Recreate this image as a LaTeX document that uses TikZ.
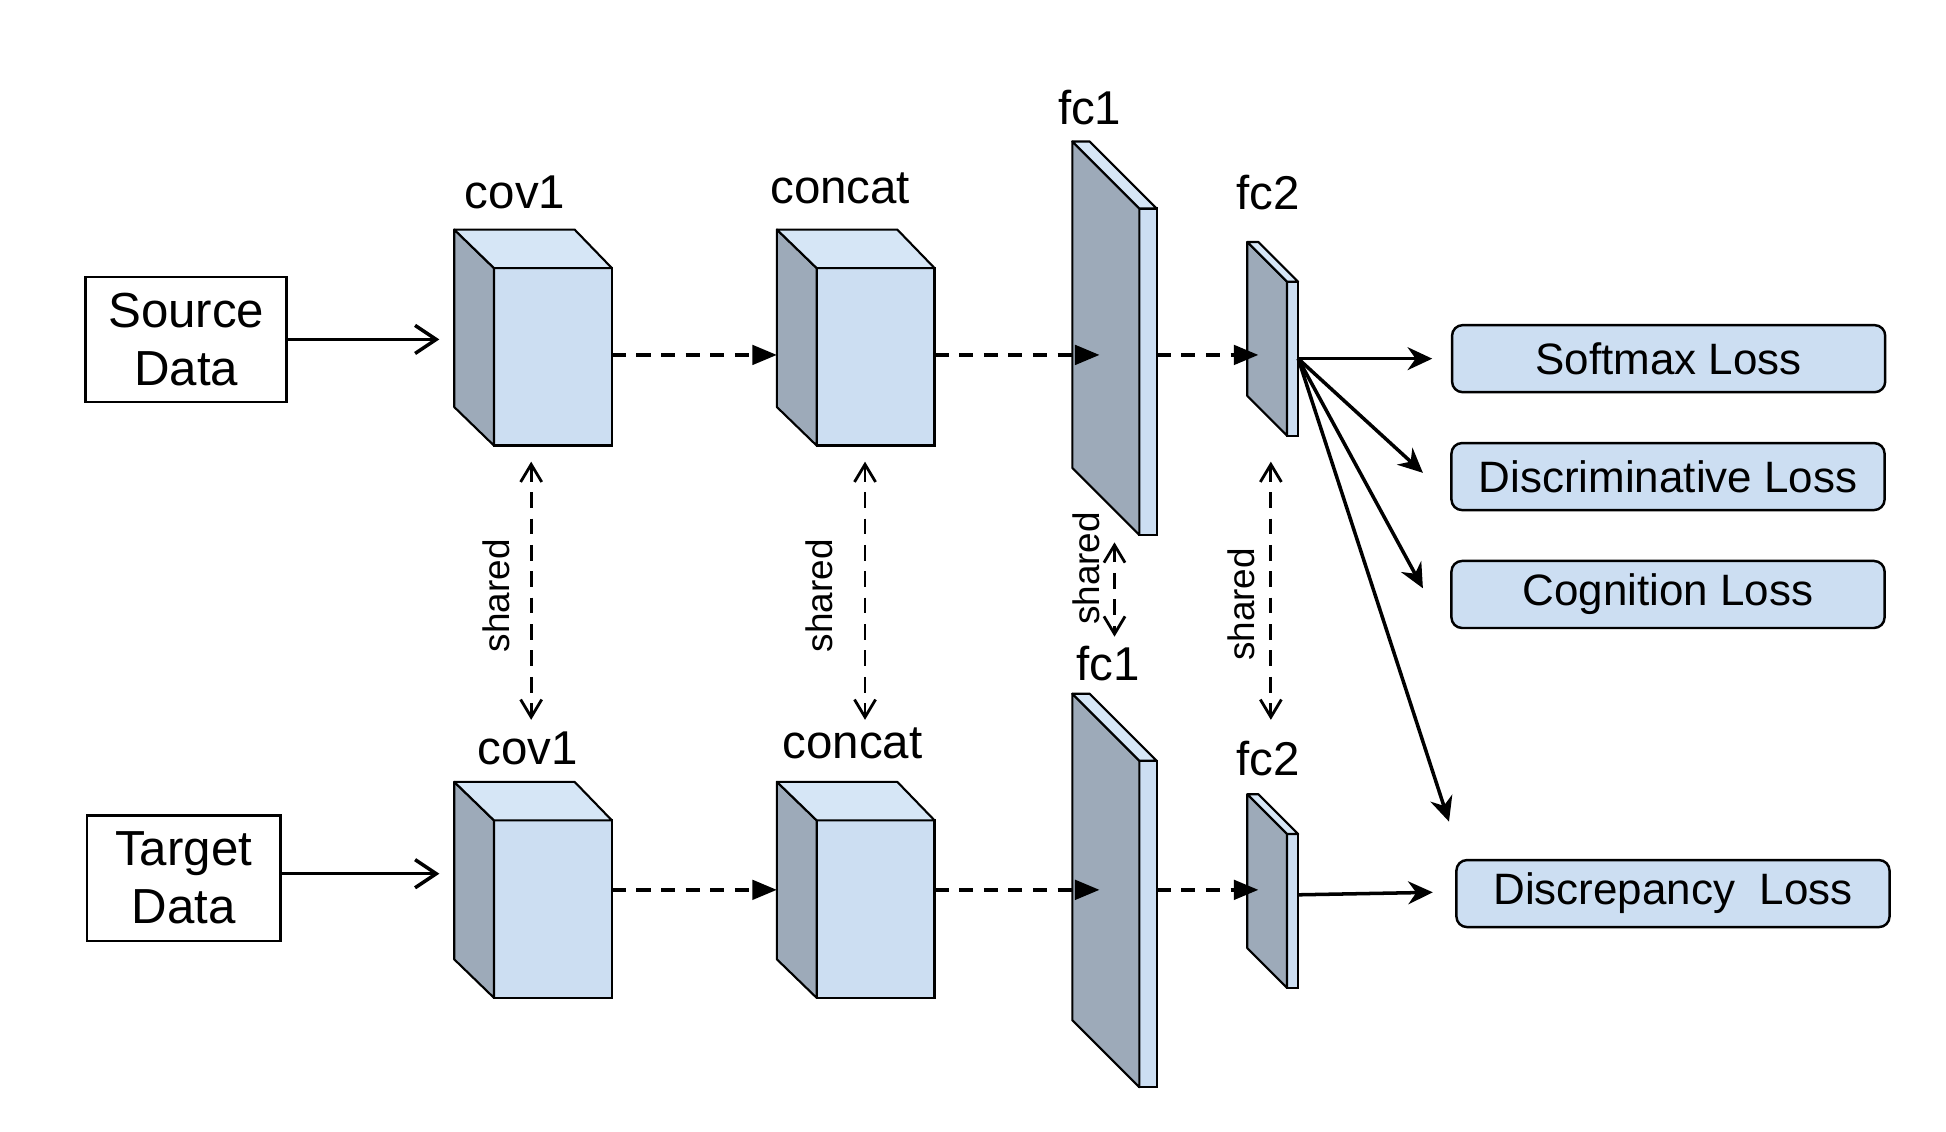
\documentclass[tikz,border=0pt]{standalone}
\usepackage{fontspec}
\setmainfont{Liberation Sans}
\usetikzlibrary{arrows.meta,calc,positioning}

\definecolor{facelight}{HTML}{CCDEF2}
\definecolor{facetop}{HTML}{D6E6F6}
\definecolor{facedark}{HTML}{9DAAB9}

\newcommand*{\unitlen}{0.01241cm}

% block: name, centre of front face
\newcommand*{\convblock}[2]{%
	\node[frontface, minimum width=95*\unitlen, minimum height=143*\unitlen] (#1) at (#2) {};
	\draw[sideface] (#1.north west) -- ++(-32,-31) -- ++(0,143) -- (#1.south west) -- cycle;
	\draw[topface] (#1.north west) -- ++(-32,-31) -- ++(97,0) -- (#1.north east) -- cycle;
}
% plate: name, centre of front face, width, height, depth
\newcommand*{\fcplate}[5]{%
	\node[frontface, minimum width=#3*\unitlen, minimum height=#4*\unitlen] (#1) at (#2) {};
	\draw[sideface] (#1.north west) -- ++(-#5,-#5) -- ++(0,#4) -- (#1.south west) -- cycle;
	\draw[topface] (#1.north west) -- ++(-#5,-#5) -- ++(#3,0) -- (#1.north east) -- cycle;
}

\begin{document}
\begin{tikzpicture}
[
	x=\unitlen, y=-\unitlen,
	frontface/.style={draw, fill=facelight, line width=0.6pt, inner sep=0pt, outer sep=0pt},
	sideface/.style={draw, fill=facedark, line width=0.6pt, line join=round},
	topface/.style={draw, fill=facetop, line width=0.6pt, line join=round},
	databox/.style={draw, line width=0.7pt, align=center, inner sep=0pt, font=\fontsize{14}{16.5}\selectfont},
	lossbox/.style={draw, fill=facelight, rounded corners=3pt, line width=0.7pt, minimum width=349*\unitlen, minimum height=54*\unitlen, font=\fontsize{12.5}{15}\selectfont},
	layerlbl/.style={font=\fontsize{13.5}{16}\selectfont, inner sep=0pt},
	sharelbl/.style={rotate=90, font=\fontsize{10.5}{12}\selectfont, inner sep=0pt},
	flow/.style={line width=1pt, -{Straight Barb[length=6pt,width=8pt]}},
	dataflow/.style={line width=1.1pt, dash pattern=on 4pt off 3pt, -{Triangle[length=7pt,width=5.5pt]}},
	lossflow/.style={line width=1pt, -{Stealth[length=7pt,width=6.5pt]}},
	sharedarrow/.style={line width=0.8pt, dash pattern=on 4.5pt off 3pt, {Straight Barb[length=5pt,width=6pt]}-{Straight Barb[length=5pt,width=6pt]}}
]
	\useasboundingbox (0,0) rectangle (1568,912);

	\coordinate (rowa) at (0,286);
	\coordinate (rowb) at (0,717);

	% inputs
	\node[databox, minimum width=162*\unitlen, minimum height=101*\unitlen] (src) at (150,273.5) {Source\\Data};
	\node[databox, minimum width=156*\unitlen, minimum height=101*\unitlen] (tgt) at (148,707.5) {Target\\Data};

	% source stream
	\convblock{cov1a}{445.5,287.5}
	\convblock{concata}{705.5,287.5}
	\fcplate{fc1a}{925,299.5}{14}{263}{54}
	\fcplate{fc2a}{1041.5,289}{9}{124}{32}

	% target stream
	\convblock{cov1b}{445.5,732.5}
	\convblock{concatb}{705.5,732.5}
	\fcplate{fc1b}{925,744.5}{14}{263}{54}
	\fcplate{fc2b}{1041.5,734}{9}{124}{32}

	% layer names
	\node[layerlbl] (cov1alabel) at (415,155) {cov1};
	\node[layerlbl] (concatalabel) at (677,152) {concat};
	\node[layerlbl] (fc1alabel) at (878,87) {fc1};
	\node[layerlbl] (fc2alabel) at (1022,155) {fc2};
	\node[layerlbl] (cov1blabel) at (425,603) {cov1};
	\node[layerlbl] (concatblabel) at (687,599) {concat};
	\node[layerlbl] (fc1blabel) at (893,535) {fc1};
	\node[layerlbl] (fc2blabel) at (1022,611) {fc2};

	% losses
	\node[lossbox] (softmax) at (1344.5,289) {Softmax Loss};
	\node[lossbox] (discr) at (1344,384) {Discriminative Loss};
	\node[lossbox] (cogn) at (1344,479) {Cognition Loss};
	\node[lossbox] (discrep) at (1348,720) {Discrepancy~ Loss};

	% inputs to cov1
	\draw[flow] (src.east) -- ($(cov1a.west |- src.east)+(-44,0)$);
	\draw[flow] ($(tgt.east)+(0,-3.5)$) -- ($(cov1b.west)+(-44,-28.5)$);

	% forward passes
	\draw[dataflow] (cov1a.east |- rowa) -- ($(concata.west |- rowa)+(-32,0)$);
	\draw[dataflow] (concata.east |- rowa) -- ($(fc1a.west |- rowa)+(-32,0)$);
	\draw[dataflow] (fc1a.east |- rowa) -- ($(fc2a.west |- rowa)+(-23,0)$);
	\draw[dataflow] (cov1b.east |- rowb) -- ($(concatb.west |- rowb)+(-32,0)$);
	\draw[dataflow] (concatb.east |- rowb) -- ($(fc1b.west |- rowb)+(-32,0)$);
	\draw[dataflow] (fc1b.east |- rowb) -- ($(fc2b.west |- rowb)+(-23,0)$);

	% shared weights
	\draw[sharedarrow] ($(cov1a.south)+(-17.5,13)$) -- ($(cov1b.north)+(-17.5,-81)$);
	\draw[sharedarrow] ($(concata.south)+(-8.5,13)$) -- ($(concatb.north)+(-8.5,-81)$);
	\draw[sharedarrow] ($(fc1a.south)+(-27,6)$) -- ($(fc1b.north)+(-27,-100)$);
	\draw[sharedarrow] ($(fc2a.south)+(-17.5,21)$) -- ($(fc2b.north)+(-17.5,-92)$);
	\node[sharelbl] (sharedcov) at (400,480) {shared};
	\node[sharelbl] (sharedconcat) at (660,480) {shared};
	\node[sharelbl] (sharedfca) at (875,458) {shared};
	\node[sharelbl] (sharedfcb) at (1000,487) {shared};

	% outputs
	\draw[lossflow] (fc2a.east) -- ($(softmax.west)+(-15,0)$);
	\draw[lossflow] (fc2a.east) -- ($(discr.west)+(-22,-3)$);
	\draw[lossflow] (fc2a.east) -- ($(cogn.west)+(-22,-5)$);
	\draw[lossflow] (fc2a.east) -- ($(discrep.north west)+(-5,-30)$);
	\draw[lossflow] ($(fc2b.east)+(0,-13)$) -- ($(discrep.west)+(-18,-1)$);

\end{tikzpicture}
\end{document}
